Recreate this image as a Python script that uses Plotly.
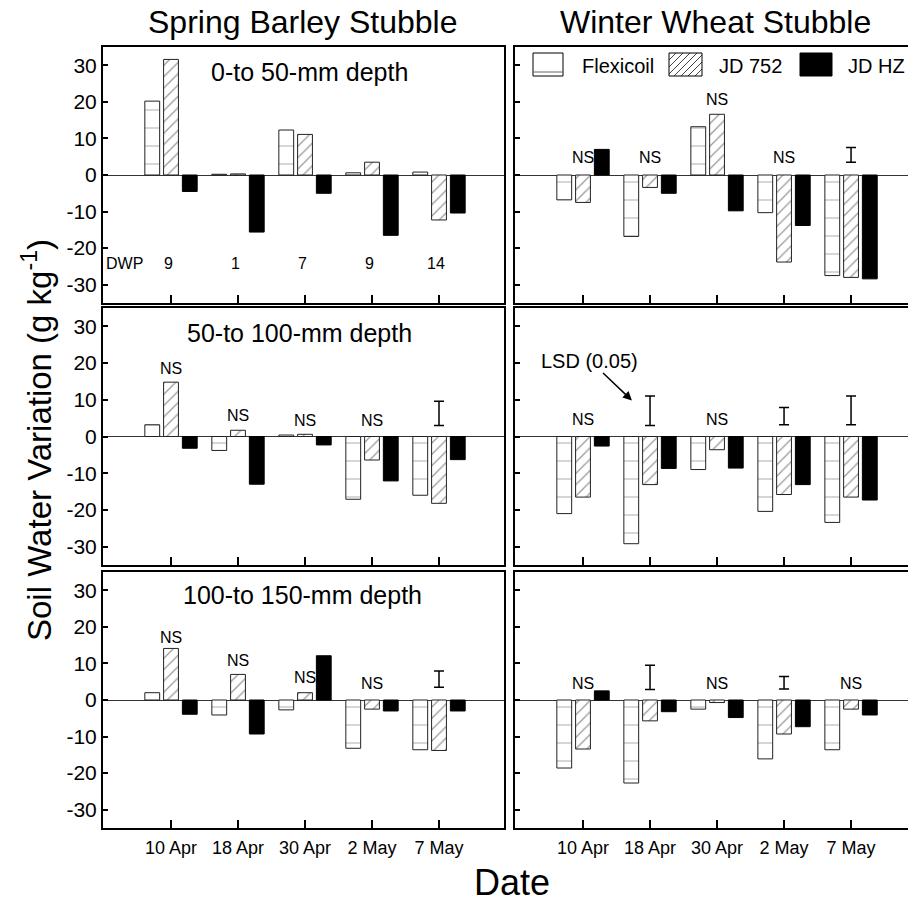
import plotly.graph_objects as go

# ---------------- data ----------------
dates = ["10 Apr", "18 Apr", "30 Apr", "2 May", "7 May"]
implements = ["Flexicoil", "JD 752", "JD HZ"]
stubbles = ["Spring Barley Stubble", "Winter Wheat Stubble"]
depths = ["0-to 50-mm depth", "50-to 100-mm depth", "100-to 150-mm depth"]
dwp = [9, 1, 7, 9, 14]
y_ticks = [-30, -20, -10, 0, 10, 20, 30]
y_tick_text = ["-30", "-20", "-10", "0", "10", "20", "30"]

# Spring barley stubble (left column)
sb_flexicoil_0_50 = [20.2, 0.2, 12.3, 0.6, 0.8]
sb_jd752_0_50 = [31.6, 0.3, 11.1, 3.5, -12.3]
sb_jdhz_0_50 = [-4.5, -15.6, -5.0, -16.5, -10.4]

sb_flexicoil_50_100 = [3.2, -3.8, 0.4, -17.1, -16.0]
sb_jd752_50_100 = [14.8, 1.7, 0.6, -6.4, -18.2]
sb_jdhz_50_100 = [-3.2, -13.0, -2.3, -12.1, -6.3]

sb_flexicoil_100_150 = [2.0, -4.1, -2.7, -13.2, -13.6]
sb_jd752_100_150 = [14.1, 7.0, 2.0, -2.5, -13.8]
sb_jdhz_100_150 = [-3.9, -9.3, 12.1, -3.0, -3.0]

# Winter wheat stubble (right column)
ww_flexicoil_0_50 = [-6.8, -16.8, 13.2, -10.3, -27.5]
ww_jd752_0_50 = [-7.5, -3.4, 16.6, -23.8, -28.0]
ww_jdhz_0_50 = [7.0, -5.0, -9.8, -13.8, -28.4]

ww_flexicoil_50_100 = [-21.0, -29.2, -9.0, -20.4, -23.4]
ww_jd752_50_100 = [-16.5, -13.1, -3.6, -15.8, -16.5]
ww_jdhz_50_100 = [-2.6, -8.7, -8.6, -13.1, -17.3]

ww_flexicoil_100_150 = [-18.6, -22.7, -2.5, -16.1, -13.6]
ww_jd752_100_150 = [-13.4, -5.7, -0.7, -9.3, -2.5]
ww_jdhz_100_150 = [2.5, -3.2, -4.8, -7.3, -4.1]

# significance markers: "NS" label height, or LSD(0.05) bar (low, high)
sb_ns_0_50 = [None, None, None, None, None]
sb_lsd_0_50 = [None, None, None, None, None]
ww_ns_0_50 = [4.9, 4.9, 20.7, 4.9, None]
ww_lsd_0_50 = [None, None, None, None, (3.5, 7.5)]

sb_ns_50_100 = [18.4, 5.7, 4.4, 4.4, None]
sb_lsd_50_100 = [None, None, None, None, (3.0, 9.6)]
ww_ns_50_100 = [4.6, None, 4.6, None, None]
ww_lsd_50_100 = [None, (3.0, 11.0), None, (3.2, 7.9), (3.2, 11.0)]

sb_ns_100_150 = [17.1, 10.9, 6.2, 4.5, None]
sb_lsd_100_150 = [None, None, None, None, (3.5, 7.9)]
ww_ns_100_150 = [4.5, None, 4.5, None, 4.5]
ww_lsd_100_150 = [None, (2.9, 9.5), None, (3.0, 6.4), None]

panels = {
    (0, 0): (sb_flexicoil_0_50, sb_jd752_0_50, sb_jdhz_0_50, sb_ns_0_50, sb_lsd_0_50),
    (0, 1): (ww_flexicoil_0_50, ww_jd752_0_50, ww_jdhz_0_50, ww_ns_0_50, ww_lsd_0_50),
    (1, 0): (sb_flexicoil_50_100, sb_jd752_50_100, sb_jdhz_50_100, sb_ns_50_100, sb_lsd_50_100),
    (1, 1): (ww_flexicoil_50_100, ww_jd752_50_100, ww_jdhz_50_100, ww_ns_50_100, ww_lsd_50_100),
    (2, 0): (sb_flexicoil_100_150, sb_jd752_100_150, sb_jdhz_100_150, sb_ns_100_150, sb_lsd_100_150),
    (2, 1): (ww_flexicoil_100_150, ww_jd752_100_150, ww_jdhz_100_150, ww_ns_100_150, ww_lsd_100_150),
}

# ---------------- layout geometry (pixels) ----------------
W, H = 908, 905
FONT = "Liberation Sans, Arial, Helvetica, sans-serif"
col_px = [(103, 504), (515, 908)]
row_px = [(47, 303), (308, 565), (572, 828)]
x_ranges = [[-1.015, 4.97], [-1.015, 4.85]]


def px(xp):
    return xp / W


def py(yp):
    return 1 - yp / H


marker_styles = [
    dict(color="white", line=dict(color="#222", width=1),
         pattern=dict(shape="-", size=18, solidity=0.06, fgcolor="#666", bgcolor="white")),
    dict(color="white", line=dict(color="#222", width=1),
         pattern=dict(shape="/", size=8, solidity=0.16, fgcolor="#333", bgcolor="white")),
    dict(color="black", line=dict(color="black", width=1)),
]

fig = go.Figure()
annotations = []
shapes = []
layout_axes = {}

for (r, c), (f, j, z, ns, lsd) in panels.items():
    k = r * 2 + c + 1
    xa, ya = f"x{k}", f"y{k}"
    for name, vals, ms in zip(implements, (f, j, z), marker_styles):
        fig.add_trace(go.Bar(x=dates, y=vals, name=name, marker=ms,
                             xaxis=xa, yaxis=ya, showlegend=False))
    # LSD bars
    lx, lmid, lhalf = [], [], []
    for d, v in zip(dates, lsd):
        if v is not None:
            lx.append(d)
            lmid.append((v[0] + v[1]) / 2)
            lhalf.append((v[1] - v[0]) / 2)
    if lx:
        fig.add_trace(go.Scatter(x=lx, y=lmid, mode="markers",
                                 marker=dict(size=1, color="rgba(0,0,0,0)"),
                                 error_y=dict(type="data", array=lhalf, visible=True,
                                              width=5, thickness=1.5, color="black"),
                                 xaxis=xa, yaxis=ya, showlegend=False, hoverinfo="skip"))
    # NS labels
    for i, v in enumerate(ns):
        if v is not None:
            annotations.append(dict(x=i, y=v, xref=xa, yref=ya, text="NS", showarrow=False,
                                    font=dict(size=16, family=FONT, color="black"),
                                    xanchor="center", yanchor="middle"))
    key = "" if k == 1 else str(k)
    x0, x1 = col_px[c]
    y0, y1 = row_px[r]
    layout_axes[f"xaxis{key}"] = dict(
        domain=[px(x0), px(x1)], anchor=ya, range=x_ranges[c], type="category",
        showline=True, linewidth=2, linecolor="black", mirror=True,
        ticks="inside", ticklen=8, tickwidth=1.5, tickcolor="black",
        showticklabels=(r == 2), tickfont=dict(size=18, family=FONT, color="black"),
        ticklabelstandoff=2, showgrid=False, zeroline=False, fixedrange=True,
    )
    layout_axes[f"yaxis{key}"] = dict(
        domain=[py(y1), py(y0)], anchor=xa, range=[-35, 35],
        tickmode="array", tickvals=y_ticks, ticktext=y_tick_text,
        showline=True, linewidth=2, linecolor="black", mirror=(c == 0),
        ticks="inside", ticklen=5, tickwidth=1.5, tickcolor="black",
        showticklabels=(c == 0), tickfont=dict(size=21, family=FONT, color="black"),
        showgrid=False, zeroline=True, zerolinecolor="#333", zerolinewidth=1,
        fixedrange=True,
    )

# DWP labels (top-left panel)
annotations.append(dict(x=-0.70, y=-24.3, xref="x", yref="y", text="DWP", showarrow=False,
                        font=dict(size=16, family=FONT, color="black")))
for i, d in enumerate(dwp):
    annotations.append(dict(x=i, y=-24.3, xref="x", yref="y", text=str(d), showarrow=False,
                            xshift=-3, font=dict(size=16, family=FONT, color="black")))

# LSD label with arrow (middle-right panel)
annotations.append(dict(x=0.73, y=9.8, xref="x4", yref="y4", text="LSD (0.05)",
                        showarrow=True, ax=-42, ay=-40, arrowhead=2, arrowsize=1.2,
                        arrowwidth=1.5, arrowcolor="black", standoff=0,
                        font=dict(size=20, family=FONT, color="black")))

# Column titles
for c, t in enumerate(stubbles):
    cx = (col_px[c][0] + (col_px[c][0] + 400)) / 2
    annotations.append(dict(x=px(cx), y=py(22), xref="paper", yref="paper", text=t,
                            showarrow=False, xanchor="center", yanchor="middle",
                            font=dict(size=32, family=FONT, color="black")))

# Depth labels
depth_pos = [(309, 72), (299, 333), (302, 595)]
for (dx, dy), t in zip(depth_pos, depths):
    annotations.append(dict(x=px(dx), y=py(dy), xref="paper", yref="paper", text=t,
                            showarrow=False, xanchor="center", yanchor="middle",
                            font=dict(size=25, family=FONT, color="black")))

# Axis titles
annotations.append(dict(x=px(37), y=py(440), xref="paper", yref="paper",
                        text="Soil Water Variation (g kg<sup>-1</sup>)", textangle=-90,
                        showarrow=False, xanchor="center", yanchor="middle",
                        font=dict(size=33, family=FONT, color="black")))
annotations.append(dict(x=px(512), y=py(882), xref="paper", yref="paper", text="Date",
                        showarrow=False, xanchor="center", yanchor="middle",
                        font=dict(size=36, family=FONT, color="black")))

# Legend (custom swatches)
lg_y0, lg_y1 = 53, 76
lg_boxes = [(533, 563), (669, 702), (800, 832)]
lg_text_x = [580, 717, 846]
# Flexicoil
shapes.append(dict(type="rect", xref="paper", yref="paper", x0=px(533), x1=px(563),
                   y0=py(lg_y1), y1=py(lg_y0), line=dict(color="black", width=1),
                   fillcolor="white"))
shapes.append(dict(type="line", xref="paper", yref="paper", x0=px(533), x1=px(563),
                   y0=py(72), y1=py(72), line=dict(color="#666", width=1)))
# JD 752 hatch
bx0, bx1 = lg_boxes[1]
h = lg_y1 - lg_y0
cpos = bx0 - h
while cpos < bx1:
    sx, sy = cpos, lg_y1
    ex, ey = cpos + h, lg_y0
    if sx < bx0:
        sy = lg_y1 - (bx0 - cpos)
        sx = bx0
    if ex > bx1:
        ey = lg_y1 - (bx1 - cpos)
        ex = bx1
    if ex > sx:
        shapes.append(dict(type="line", xref="paper", yref="paper", x0=px(sx), x1=px(ex),
                           y0=py(sy), y1=py(ey), line=dict(color="#444", width=1)))
    cpos += 7
shapes.append(dict(type="rect", xref="paper", yref="paper", x0=px(bx0), x1=px(bx1),
                   y0=py(lg_y1), y1=py(lg_y0), line=dict(color="black", width=1)))
# JD HZ
shapes.append(dict(type="rect", xref="paper", yref="paper", x0=px(800), x1=px(832),
                   y0=py(lg_y1), y1=py(lg_y0), line=dict(color="black", width=1),
                   fillcolor="black"))
for tx, name in zip(lg_text_x, implements):
    annotations.append(dict(x=px(tx), y=py(66), xref="paper", yref="paper", text=name,
                            showarrow=False, xanchor="left", yanchor="middle",
                            font=dict(size=20, family=FONT, color="black")))

fig.update_layout(
    width=W, height=H, margin=dict(l=0, r=0, t=0, b=0),
    paper_bgcolor="white", plot_bgcolor="white",
    barmode="group", bargap=0.16, bargroupgap=0.21,
    font=dict(family=FONT, color="black"),
    annotations=annotations, shapes=shapes, showlegend=False,
    **layout_axes,
)

fig.write_html("out.html", config={"displayModeBar": False},
               post_script="document.body.style.margin='0';document.body.style.overflow='hidden';")
